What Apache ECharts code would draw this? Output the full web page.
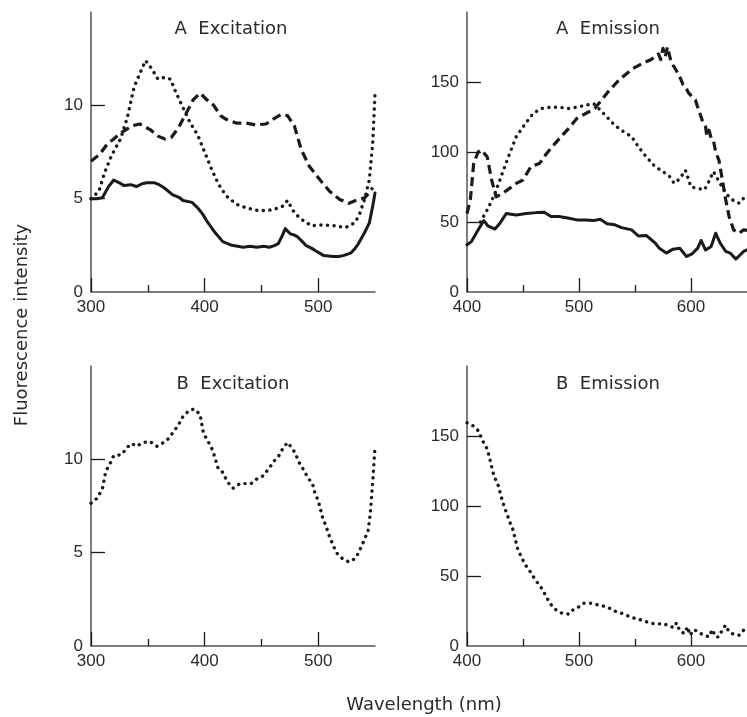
<!DOCTYPE html>
<html>
<head>
<meta charset="utf-8">
<script src="https://cdn.jsdelivr.net/npm/echarts@6/dist/echarts.min.js"></script>
<style>
  html, body { margin: 0; padding: 0; background: #fff; }
  #chart { width: 747px; height: 717px; }
</style>
</head>
<body>
<div id="chart"></div>
<script>
// A excitation (300-550 nm)
const aExSolid = [[300,5.0],[305,5.0],[310,5.05],[315,5.6],[320,6.0],[325,5.85],[329,5.7],[335,5.75],[340,5.65],[345,5.8],[349,5.85],[356,5.85],[360,5.75],[364,5.6],[372,5.2],[378,5.05],[381,4.9],[389,4.8],[394,4.5],[398,4.2],[402,3.8],[409,3.2],[416,2.7],[424,2.5],[434,2.4],[440,2.45],[446,2.4],[452,2.45],[457,2.4],[462,2.5],[465,2.6],[469,3.1],[471,3.4],[474,3.2],[476,3.1],[479,3.05],[482,2.95],[486,2.7],[489,2.5],[494,2.35],[498,2.2],[505,1.95],[513,1.9],[518,1.9],[522,1.95],[529,2.1],[532,2.3],[535,2.55],[541,3.2],[545,3.7],[548,4.6],[550,5.3]]
const aExDotted = [[300,5.0],[307,5.4],[312,6.4],[318,7.3],[326,8.2],[332,9.35],[338,11.0],[343,11.7],[348,12.4],[353,12.0],[359,11.4],[365,11.5],[370,11.4],[374,10.8],[380,10.0],[387,9.1],[394,8.4],[400,7.5],[406,6.6],[412,5.8],[419,5.15],[428,4.7],[437,4.5],[448,4.35],[460,4.4],[469,4.6],[473,4.9],[479,4.25],[485,3.9],[494,3.55],[504,3.6],[514,3.55],[524,3.45],[532,3.7],[536,4.1],[541,5.0],[545,6.0],[548,8.0],[550,10.6]]
const aExDashed = [[300,7.0],[308,7.4],[314,7.9],[320,8.2],[327,8.55],[336,8.9],[343,9.0],[352,8.7],[359,8.35],[365,8.2],[371,8.3],[377,8.8],[384,9.6],[390,10.3],[396,10.65],[402,10.3],[408,10.0],[414,9.45],[419,9.25],[428,9.05],[437,9.05],[445,8.95],[454,9.0],[460,9.25],[467,9.5],[473,9.45],[479,8.9],[485,7.65],[492,6.75],[501,6.05],[510,5.4],[519,4.95],[527,4.75],[533,4.9],[541,5.05],[545,5.3],[548,5.6]]

// A emission (400-650 nm)
const aEmSolid = [[400,33.7],[404,36],[409,43],[415,51],[419,47],[425,45],[429,48.7],[435,56],[444,55],[453,56],[462,56.7],[469,57],[475,54],[482,54],[491,52.7],[498,51.5],[506,51.5],[513,51],[519,52],[525,48.7],[532,48],[538,46],[547,44.4],[553,40],[560,40.4],[568,35],[572,31],[578,27.8],[584,30.6],[590,31.3],[596,25.4],[601,27.3],[606,31.3],[609,36.8],[613,30],[618,32.5],[622,42],[626,35],[631,29],[635,27.8],[640,23.5],[644,26.6],[647,29],[650,30]]
const aEmDashed = [[400,56],[403,66],[406,92],[410,100],[413,101.4],[418,96.6],[422,80],[426,68],[432,70.5],[438,74],[444,77.6],[450,80],[457,89.5],[465,92],[470,97.8],[476,103.7],[484,111],[491,117],[498,124],[506,127.5],[514,131],[520,137],[526,143],[534,150],[541,155],[548,159.5],[556,163],[563,165.5],[568,168],[571,170],[573,166],[575,174],[577,168],[579,175],[582,165],[584,162],[587,158],[590,153.6],[593,148],[595,146.5],[598,142],[601,139.4],[604,137],[606,132],[610,122.7],[613,118],[614,112],[616,115.6],[618,110],[620,108.5],[622,100],[625,94],[628,80],[631,65.8],[634,54],[638,44.4],[643,42],[647,44.4],[650,44]]
const aEmDotted = [[412,50],[419,60],[425,70.5],[431,83.6],[437,96.6],[444,111],[451,119],[459,127.5],[466,131],[475,132],[482,132],[491,131],[498,132],[506,133.4],[513,134.6],[519,130],[525,125],[532,119],[540,114.4],[547,111],[553,103.7],[560,96.6],[568,89.5],[575,86],[581,82.4],[585,77.6],[590,81],[595,87],[600,75],[606,74],[612,73],[616,79],[620,86],[625,79],[631,70.5],[637,65.8],[643,63.4],[647,67],[650,68]]

// B excitation / emission
const bExDotted = [[300,7.65],[305,7.9],[310,8.4],[313,9.35],[317,9.8],[320,10.2],[327,10.25],[332,10.65],[336,10.85],[340,10.7],[346,10.9],[352,10.95],[358,10.7],[364,10.9],[368,11.1],[373,11.5],[377,11.85],[381,12.3],[386,12.6],[391,12.7],[396,12.4],[399,11.4],[403,10.97],[407,10.5],[412,9.5],[416,9.3],[420,8.8],[425,8.45],[431,8.7],[436,8.7],[441,8.7],[446,8.95],[451,9.1],[456,9.45],[461,9.9],[465,10.15],[469,10.6],[473,10.9],[477,10.6],[480,10.3],[483,9.85],[487,9.45],[491,9.0],[495,8.7],[497,8.2],[500,7.8],[504,6.85],[507,6.4],[510,5.85],[516,5.0],[521,4.7],[527,4.5],[533,4.7],[537,5.2],[540,5.6],[544,6.2],[546,7.2],[548,8.8],[550,10.7]]
const bEmDotted = [[400,159.5],[406,157],[411,153],[413,148],[418,140.8],[420,134.8],[424,121.6],[428,114.4],[432,102.4],[435,95.7],[438,89],[441,83.2],[443,76.5],[445,70],[448,64.5],[452,58],[457,52.5],[461,47.2],[466,42],[470,36.5],[474,30.5],[479,26.1],[485,23.3],[491,22.8],[495,26.1],[500,28],[504,30.5],[512,30.5],[517,29.3],[525,28],[531,25.2],[537,23.7],[542,22],[550,19.7],[556,18.5],[563,16.5],[569,15.6],[575,16.1],[581,14.1],[585,13.2],[587,16.5],[590,10.8],[594,8.9],[597,13.7],[599,7.7],[603,11.7],[607,9.4],[612,7.7],[616,6.5],[619,11.7],[622,6.5],[625,6.5],[628,11.7],[631,14.9],[634,10],[638,8.4],[643,7.7],[647,11.3],[650,11]]

const exTicks = [300, 400, 500]
const exMinor = [350, 450]
const emTicks = [400, 500, 600]
const emMinor = [450, 550]
const exYLabels = [0, 5, 10]
const emYLabels = [0, 50, 100, 150]
const panelTitles = ["A  Excitation", "A  Emission", "B  Excitation", "B  Emission"]

const NUM_FONT = "'Liberation Sans', Arial, sans-serif"
const TEXT_FONT = "'DejaVu Sans', sans-serif"
const INK = "#1a1a1a"
const TEXT = "#2a2a2a"
const AXIS = "#555"

const grids = [
  { left: 91, top: 12, width: 284, height: 280 },
  { left: 467, top: 12, width: 283, height: 280 },
  { left: 91, top: 366, width: 284, height: 280 },
  { left: 467, top: 366, width: 283, height: 280 }
]
const xRanges = [[300, 550], [400, 650], [300, 550], [400, 650]]
const yMax = [15, 200, 15, 200]

function mainX(i) {
  const ticks = xRanges[i][0] === 300 ? exTicks : emTicks
  return {
    type: "value", gridIndex: i, position: "bottom",
    min: xRanges[i][0], max: xRanges[i][1],
    axisLine: { show: true, lineStyle: { color: AXIS, width: 1.5 } },
    axisTick: { show: true, inside: true, length: 14, customValues: ticks, lineStyle: { color: INK, width: 1.3 } },
    axisLabel: { customValues: ticks, fontSize: 17, color: TEXT, fontFamily: NUM_FONT, margin: 7 },
    splitLine: { show: false }
  }
}
function minorX(i) {
  const ticks = xRanges[i][0] === 300 ? exMinor : emMinor
  return {
    type: "value", gridIndex: i, position: "bottom",
    min: xRanges[i][0], max: xRanges[i][1],
    axisLine: { show: false },
    axisTick: { show: true, inside: true, length: 7, customValues: ticks, lineStyle: { color: INK, width: 1.3 } },
    axisLabel: { show: false },
    splitLine: { show: false }
  }
}
function yAx(i) {
  const labels = yMax[i] === 15 ? exYLabels : emYLabels
  return {
    type: "value", gridIndex: i, min: 0, max: yMax[i],
    axisLine: { show: true, lineStyle: { color: AXIS, width: 1.5 } },
    axisTick: { show: true, inside: true, length: 14, customValues: labels.slice(1), lineStyle: { color: INK, width: 1.3 } },
    axisLabel: { customValues: labels, fontSize: 17, color: TEXT, fontFamily: NUM_FONT, margin: 8 },
    splitLine: { show: false }
  }
}

const solid = { type: "solid", width: 3, color: INK, cap: "round", join: "round" }
const dashed = { type: [9, 5], width: 3.2, color: INK, cap: "butt", join: "round" }
const dotted = { type: [0.1, 6.5], width: 3.4, color: INK, cap: "round", join: "round" }

function line(idx, data, style) {
  return { type: "line", xAxisIndex: idx, yAxisIndex: idx, data: data, showSymbol: false, symbol: "none", lineStyle: style, silent: true }
}

const titlePos = [[231, 29], [608, 29], [233, 384], [608, 384]]

function label(text, x, y, rot) {
  return {
    type: "text", x: x, y: y, rotation: rot || 0,
    style: { text: text, fontSize: 18, fontFamily: TEXT_FONT, fill: TEXT, textAlign: "center", textVerticalAlign: "middle" }
  }
}

const chart = echarts.init(document.getElementById("chart"), null, { renderer: "canvas" })
chart.setOption({
  animation: false,
  backgroundColor: "#fff",
  grid: grids,
  xAxis: [0, 1, 2, 3].map(mainX).concat([0, 1, 2, 3].map(minorX)),
  yAxis: [0, 1, 2, 3].map(yAx),
  series: [
    line(0, aExSolid, solid),
    line(0, aExDashed, dashed),
    line(0, aExDotted, dotted),
    line(1, aEmSolid, solid),
    line(1, aEmDashed, dashed),
    line(1, aEmDotted, dotted),
    line(2, bExDotted, dotted),
    line(3, bEmDotted, dotted)
  ],
  graphic: panelTitles.map((t, i) => label(t, titlePos[i][0], titlePos[i][1]))
    .concat([
      label("Fluorescence intensity", 22, 325, Math.PI / 2),
      label("Wavelength (nm)", 424, 705)
    ])
})
</script>
</body>
</html>
